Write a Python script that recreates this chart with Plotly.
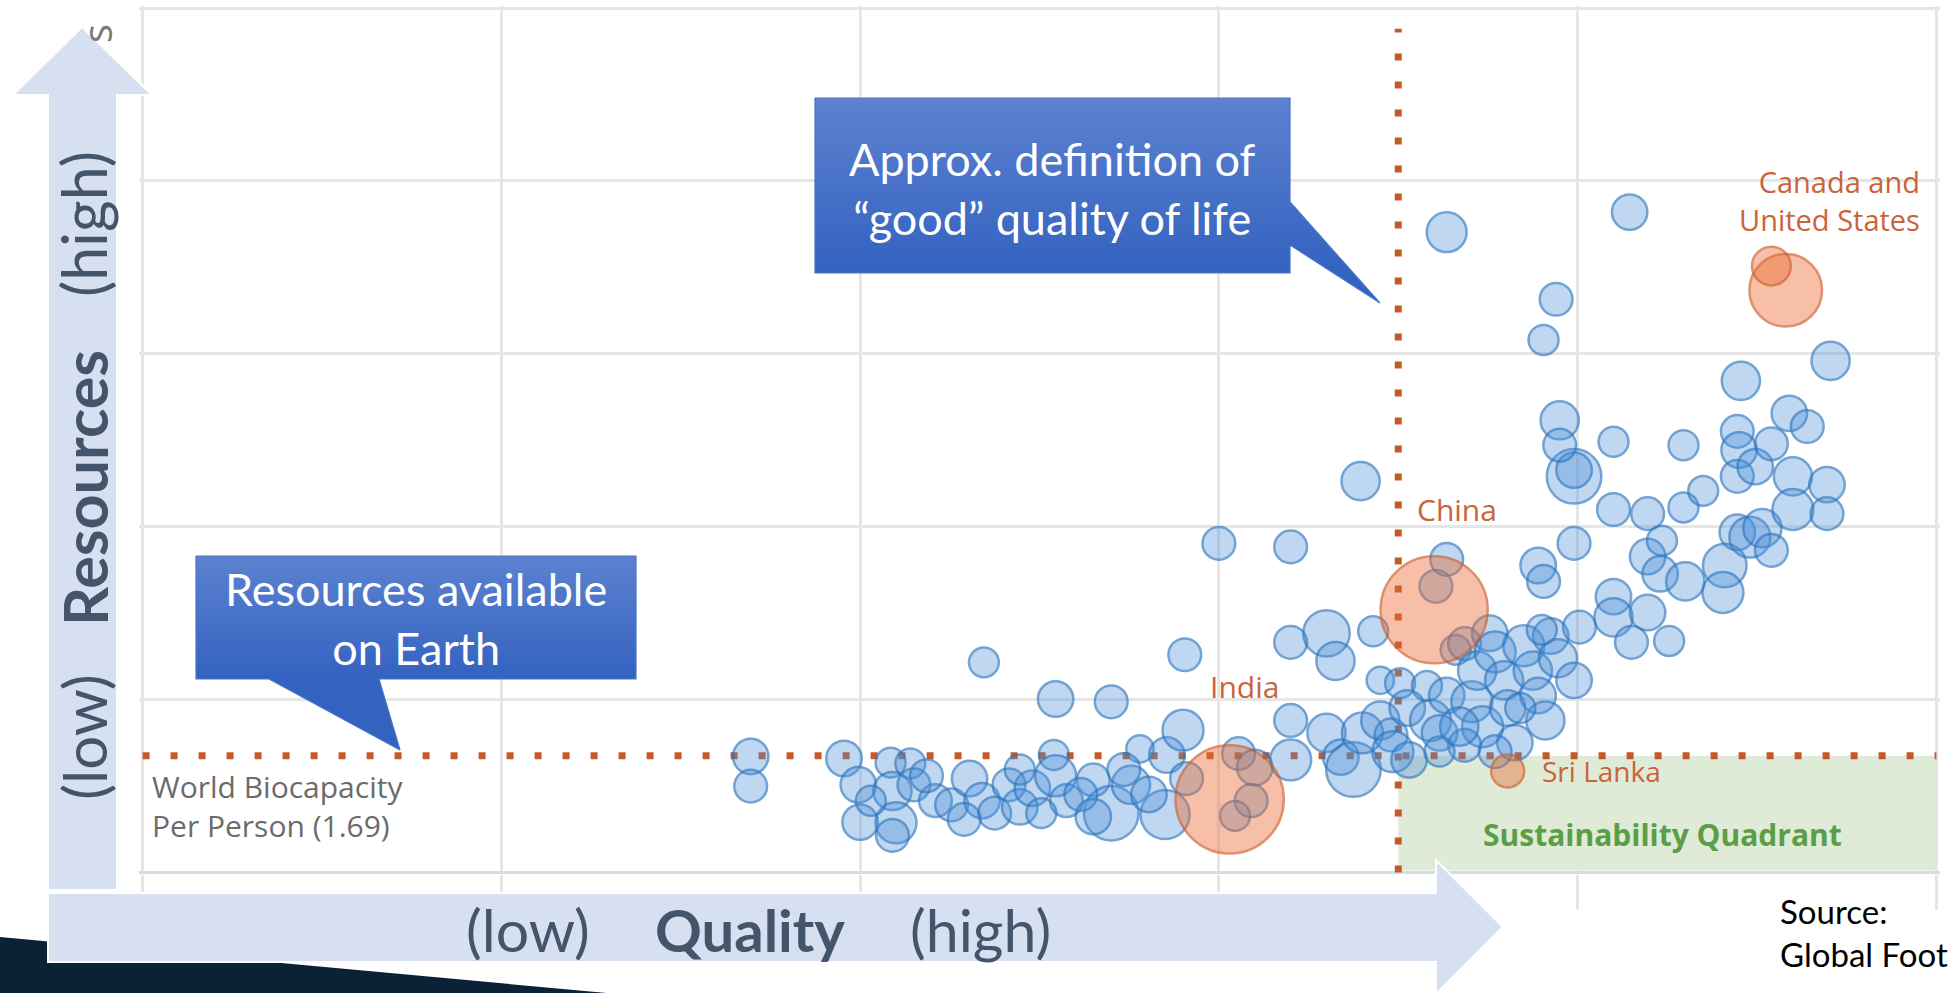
import plotly.graph_objects as go

# ---------------- data (HDI vs ecological footprint, bubble = population-like value) -------------
hdi = [0.339, 0.339, 0.391, 0.399, 0.400, 0.417, 0.418, 0.420, 0.418, 0.428,
       0.430, 0.442, 0.451, 0.461, 0.468, 0.475, 0.483, 0.489, 0.496, 0.508,
       0.509, 0.515, 0.530, 0.540, 0.551, 0.556, 0.571, 0.570, 0.580, 0.582,
       0.469, 0.509, 0.540, 0.581, 0.600, 0.640, 0.679, 0.640, 0.660, 0.665,
       0.690, 0.686, 0.611, 0.620, 0.618, 0.609, 0.640, 0.640, 0.660, 0.668,
       0.675, 0.680, 0.690, 0.696, 0.697, 0.406, 0.437, 0.458, 0.501, 0.523,
       0.547, 0.561, 0.530, 0.489,
       0.701, 0.705, 0.716, 0.718, 0.723, 0.727, 0.732, 0.737, 0.741, 0.744,
       0.747, 0.751, 0.754, 0.759, 0.761, 0.765, 0.770, 0.775, 0.778, 0.782,
       0.785, 0.789, 0.798, 0.737, 0.721, 0.727, 0.778, 0.781, 0.798, 0.798,
       0.798, 0.790, 0.790, 0.820, 0.820, 0.781, 0.788, 0.727, 0.829, 0.780,
       0.801, 0.820, 0.820, 0.830, 0.839, 0.839, 0.839, 0.847, 0.846, 0.851,
       0.859, 0.859, 0.870, 0.860, 0.882, 0.881, 0.889, 0.891, 0.889, 0.890,
       0.889, 0.899, 0.908, 0.896, 0.903, 0.908, 0.918, 0.920, 0.920, 0.928,
       0.941, 0.939, 0.939, 0.706, 0.723, 0.754, 0.734, 0.768]
footprint = [1.68, 1.25, 1.65, 1.27, 0.73, 1.59, 1.18, 0.72, 0.54, 1.58,
             1.27, 1.04, 0.98, 1.36, 1.04, 0.86, 1.27, 0.95, 1.22, 1.70,
             1.40, 1.04, 1.34, 0.86, 1.27, 1.79, 1.70, 0.84, 2.06, 1.36,
             3.04, 2.51, 2.47, 3.15, 4.76, 4.71, 5.66, 3.33, 3.46, 3.06,
             2.78, 3.49, 1.72, 1.52, 1.04, 0.82, 2.20, 1.63, 2.02, 1.67,
             1.49, 2.02, 2.20, 1.99, 1.75, 1.04, 1.40, 0.77, 0.86, 1.13,
             1.49, 1.13, 0.81, 1.49,
             2.74, 2.38, 2.70, 2.20, 2.02, 2.56, 3.22, 3.31, 2.47, 2.92,
             2.11, 3.46, 3.19, 2.78, 2.38, 1.88, 3.28, 2.92, 2.56, 2.20,
             3.42, 3.10, 2.78, 1.84, 4.14, 4.53, 4.44, 4.21, 4.76, 5.73,
             5.82, 6.54, 6.18, 6.23, 5.25, 7.70, 8.29, 9.26, 9.55, 3.51,
             3.55, 3.99, 3.69, 3.33, 5.19, 4.57, 3.76, 4.80, 4.32, 3.35,
             6.18, 5.28, 5.52, 4.21, 4.44, 4.05, 4.92, 7.11, 6.38, 6.11,
             5.73, 5.87, 6.20, 4.85, 4.98, 4.66, 6.64, 5.73, 5.25, 6.45,
             7.40, 5.61, 5.19, 1.63, 1.75, 1.75, 2.11, 2.38]
population = [150, 128, 150, 150, 150, 107, 174, 200, 128, 107,
              128, 128, 128, 150, 150, 128, 128, 150, 150, 107,
              200, 128, 128, 355, 174, 89, 150, 288, 200, 128,
              107, 150, 128, 128, 128, 128, 174, 128, 257, 174,
              89, 107, 128, 150, 128, 107, 128, 200, 174, 150,
              355, 200, 174, 128, 200, 107, 128, 128, 107, 128,
              128, 150, 150, 107,
              107, 150, 107, 200, 150, 150, 107, 128, 200, 174,
              200, 150, 200, 174, 150, 150, 200, 174, 150, 174,
              150, 174, 150, 128, 128, 128, 150, 128, 128, 355,
              150, 174, 128, 107, 128, 107, 128, 190, 150, 107,
              128, 150, 174, 128, 128, 150, 150, 107, 150, 107,
              107, 107, 107, 174, 227, 200, 150, 174, 128, 150,
              128, 150, 128, 200, 174, 128, 150, 174, 200, 128,
              174, 150, 128, 150, 107, 128, 174, 107]

hl_names = ["India", "China", "United States", "Canada", "Sri Lanka"]
hl_hdi = [0.606, 0.720, 0.916, 0.908, 0.761]
hl_footprint = [1.06, 3.80, 8.42, 8.77, 1.47]
hl_population = [1400, 1370, 630, 179, 130]

biocapacity = 1.69
hdi_threshold = 0.7

# ---------------- figure geometry -------------
W, H = 1949, 993
ML, MR, MT, MB = 139, 9, 6, 119
PW, PH = W - ML - MR, H - MT - MB


def px(x):
    return (x - ML) / PW


def py(y):
    return (H - MB - y) / PH


def path(points):
    s = "M " + " L ".join(f"{px(a):.5f},{py(b):.5f}" for a, b in points)
    return s + " Z"


SLIDE_FONT = "Lato"
CHART_FONT = "Open Sans"
SLATE = "#44546A"
ARROW_FILL = "#D7E0F1"
ORANGE_TXT = "#C9643A"

max_diam = 109.4
sizeref = 2 * max(hl_population) / (max_diam ** 2) * (1400 / 1370)

fig = go.Figure()

fig.add_trace(go.Scatter(
    x=hdi, y=footprint, mode="markers",
    marker=dict(size=population, sizemode="area", sizeref=sizeref,
                color="rgba(74,144,217,0.5)",
                line=dict(color="rgba(46,118,190,0.95)", width=2.5)),
    hoverinfo="skip", showlegend=False))

fig.add_trace(go.Scatter(
    x=hl_hdi, y=hl_footprint, mode="markers", text=hl_names,
    marker=dict(size=hl_population, sizemode="area", sizeref=sizeref,
                color="rgba(237,105,47,0.6)",
                line=dict(color="rgba(205,92,40,0.95)", width=2.5)),
    hoverinfo="skip", showlegend=False))

# callouts (drawn on an invisible pixel-based overlay axis so they can carry a gradient)
callouts = [
    dict(pts=[(815, 98), (1290, 98), (1290, 202), (1380, 303), (1290, 245), (1290, 273), (815, 273)],
         top=98, bottom=273),
    dict(pts=[(196, 556), (636, 556), (636, 679), (379, 679), (400, 750), (269, 679), (196, 679)],
         top=556, bottom=679),
]
for c in callouts:
    xs = [p[0] for p in c["pts"]] + [c["pts"][0][0]]
    ys = [p[1] for p in c["pts"]] + [c["pts"][0][1]]
    fig.add_trace(go.Scatter(
        x=xs, y=ys, xaxis="x2", yaxis="y2", mode="lines", fill="toself",
        fillgradient=dict(type="vertical", colorscale=[[0, "#5C82D0"], [1, "#3362C0"]],
                          start=c["top"], stop=c["bottom"]),
        line=dict(color="#4A73C6", width=1.2),
        hoverinfo="skip", showlegend=False))

dot_line = dict(color="#C55A28", width=7, dash="7px,21px")
shapes = [
    dict(type="rect", xref="x", yref="y", x0=hdi_threshold, x1=1.0, y0=0.03, y1=biocapacity,
         fillcolor="#DFEAD7", line=dict(width=0), layer="between"),
    dict(type="line", xref="x", yref="y", x0=0, x1=1.0, y0=biocapacity, y1=biocapacity,
         line=dot_line, layer="between"),
    dict(type="line", xref="x", yref="y", x0=hdi_threshold, x1=hdi_threshold, y0=0, y1=12.2,
         line=dot_line, layer="between"),
    # slide decoration: dark band bottom-left
    dict(type="path", xref="paper", yref="paper",
         path=path([(0, 937), (650, 997), (0, 997)]),
         fillcolor="#0B2136", line=dict(width=0), layer="above"),
    # vertical arrow
    dict(type="path", xref="paper", yref="paper",
         path=path([(48, 890), (48, 95), (13, 95), (82, 27), (152, 95), (117, 95), (117, 890)]),
         fillcolor=ARROW_FILL, line=dict(color="white", width=2), layer="above"),
    # horizontal arrow
    dict(type="path", xref="paper", yref="paper",
         path=path([(48, 893), (1436, 893), (1436, 860), (1503, 927), (1436, 994), (1436, 962), (48, 962)]),
         fillcolor=ARROW_FILL, line=dict(color="white", width=2), layer="above"),
]

ann = []


def slide_text(text, x, y, size, color=SLATE, angle=0, xanchor="center", yanchor="middle", **kw):
    ann.append(dict(text=text, xref="paper", yref="paper", x=px(x), y=py(y),
                    showarrow=False, textangle=angle, xanchor=xanchor, yanchor=yanchor,
                    font=dict(family=SLIDE_FONT, size=size, color=color), **kw))


slide_text("(low)", 84, 737, 60, angle=-90)
slide_text("<b>Resources</b>", 84, 488, 61, angle=-90)
slide_text("(high)", 84, 224, 61, angle=-90)
slide_text("(low)", 528, 929, 59)
slide_text("<b>Quality</b>", 750, 929, 58)
slide_text("(high)", 980, 929, 59)
slide_text("Approx. definition of<br>“good” quality of life", 1052, 188, 45, color="white")
slide_text("Resources available<br>on Earth", 416, 618, 45, color="white")
slide_text("Source:<br>Global Footprint Network", 1778, 932, 33, color="black",
           xanchor="left", align="left")
ann.append(dict(text="s", xref="paper", yref="paper", x=px(97), y=py(34), showarrow=False,
                xanchor="center", yanchor="middle",
                textangle=-90, font=dict(family=CHART_FONT, size=40, color="#7A7A7A")))


def chart_text(text, x, y, size=29, color=ORANGE_TXT, xanchor="center", **kw):
    ann.append(dict(text=text, xref="x", yref="y", x=x, y=y, showarrow=False,
                    xanchor=xanchor, yanchor="middle",
                    font=dict(family=CHART_FONT, size=size, color=color), **kw))


chart_text("World Biocapacity<br>Per Person (1.69)", 0.004, 0.967, size=30, color="#6B6B6B",
           xanchor="left", align="left")
chart_text("India", 0.614, 2.69, size=30)
chart_text("China", 0.733, 5.25, size=30)
chart_text("Canada and<br>United States", 0.992, 9.72, xanchor="right", align="right")
chart_text("Sri Lanka", 0.779, 1.47, size=28, xanchor="left")
chart_text("<b>Sustainability Quadrant</b>", 0.8475, 0.555, size=30, color="#5A9E45")

grid = "#E6E6E6"
fig.update_layout(
    width=W, height=H,
    margin=dict(l=ML, r=MR, t=MT, b=MB, pad=0, autoexpand=False),
    paper_bgcolor="white", plot_bgcolor="white",
    showlegend=False,
    xaxis=dict(range=[-0.002, 1.002], dtick=0.2, tick0=0, showgrid=True, gridcolor=grid, gridwidth=2.5,
               showticklabels=False, ticks="outside", ticklen=35, tickcolor=grid, tickwidth=2.5,
               zeroline=False, showline=False, fixedrange=True),
    yaxis=dict(range=[-0.02, 12.53], dtick=2.5, tick0=0, showgrid=True, gridcolor=grid, gridwidth=2.5,
               showticklabels=False, zeroline=True, zerolinecolor="#D5DBE7", zerolinewidth=3,
               showline=False, fixedrange=True),
    xaxis2=dict(overlaying="x", range=[ML, W - MR], visible=False, fixedrange=True),
    yaxis2=dict(overlaying="y", range=[H - MB, MT], visible=False, fixedrange=True),
    shapes=shapes,
    annotations=ann,
)

fig.write_html("out.html", config={"displayModeBar": False},
               post_script="document.body.style.margin='0';")
